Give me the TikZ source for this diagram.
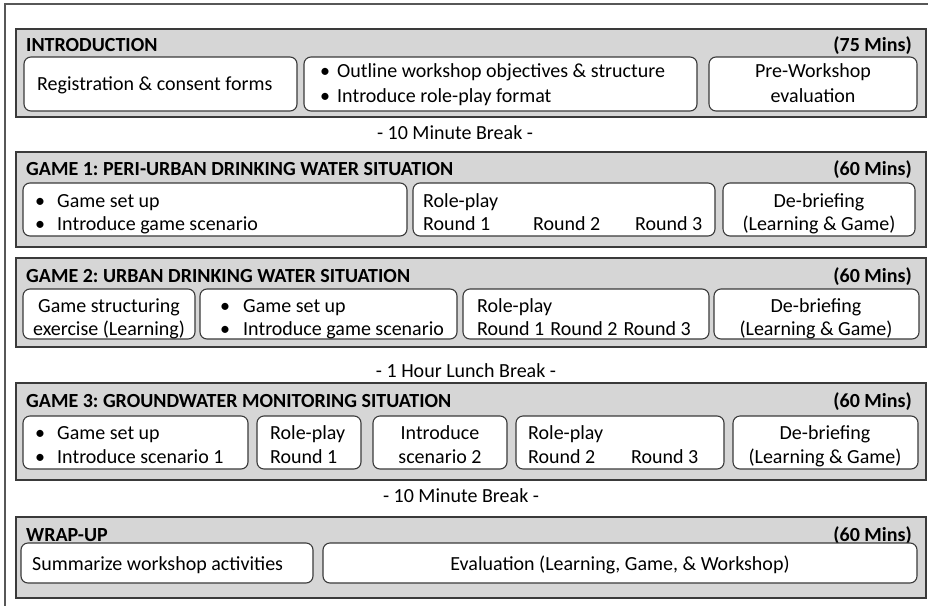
\documentclass[tikz,border=0pt]{standalone}
\usepackage{fontspec}
\setmainfont{Carlito}
\usetikzlibrary{fit}
\frenchspacing
\definecolor{panelfill}{HTML}{D6D6D6}
\definecolor{edge}{HTML}{3A3A3A}
\tikzset{
  panel/.style={draw=edge, line width=1.3pt, fill=panelfill, inner sep=0pt},
  wbox/.style={draw=edge, line width=1.1pt, fill=white, rounded corners=7pt, inner sep=0pt},
  txt/.style={inner sep=0pt, font=\fontsize{20}{24}\selectfont, text=black},
  lt/.style={txt, anchor=base west},
  ct/.style={txt, anchor=base},
  hd/.style={txt, anchor=base west, font=\fontsize{20}{24}\selectfont\bfseries},
  mins/.style={txt, anchor=base east, font=\fontsize{20}{24}\selectfont\bfseries},
}
\begin{document}
\begin{tikzpicture}[x=1pt,y=-1pt]
\clip (0,0) rectangle (928,605);
\fill[white] (0,0) rectangle (928,605);
\draw[edge!85, line width=1.2pt] (5,4) rectangle (960,640);

% ---------- INTRODUCTION
\node[panel, fit={(16,29) (926,117)}] (p0) {};
\node[hd] (h0) at (26,51) {INTRODUCTION};
\node[mins] (m0) at (912,51) {(75 Mins)};
\node[wbox, fit={(24,57) (297,111)}] (i1) {};
\node[wbox, fit={(304,57) (697,111)}] (i2) {};
\node[wbox, fit={(709,57) (917,111)}] (i3) {};
\node[lt] (i1a) at (37,90) {Registration \& consent forms};
\node[lt] (i2b1) at (320,77) {\textbullet};
\node[lt] (i2a) at (337,77) {Outline workshop objectives \& structure};
\node[lt] (i2b2) at (320,102) {\textbullet};
\node[lt] (i2c) at (337,102) {Introduce role-play format};
\node[ct] (i3a) at (813,77) {Pre-Workshop};
\node[ct] (i3b) at (813,102) {evaluation};

\node[ct] (b1) at (455,139) {- 10 Minute Break -};

% ---------- GAME 1
\node[panel, fit={(16,152) (926,247)}] (p1) {};
\node[hd] (h1) at (26,175) {GAME 1: PERI-URBAN DRINKING WATER SITUATION};
\node[mins] (m1) at (912,175) {(60 Mins)};
\node[wbox, fit={(23,183) (407,236)}] (g11) {};
\node[wbox, fit={(413,183) (715,236)}] (g12) {};
\node[wbox, fit={(723,183) (915,236)}] (g13) {};
\node[lt] (g11b1) at (35,207) {\textbullet};
\node[lt] (g11a) at (57,207) {Game set up};
\node[lt] (g11b2) at (35,230) {\textbullet};
\node[lt] (g11c) at (57,230) {Introduce game scenario};
\node[lt] (g12a) at (423,207) {Role-play};
\node[lt] (g12r1) at (423,230) {Round 1};
\node[lt] (g12r2) at (533,230) {Round 2};
\node[lt] (g12r3) at (635,230) {Round 3};
\node[ct] (g13a) at (819,207) {De-briefing};
\node[ct] (g13b) at (819,230) {(Learning \& Game)};

% ---------- GAME 2
\node[panel, fit={(16,258) (926,347)}] (p2) {};
\node[hd] (h2) at (26,282) {GAME 2: URBAN DRINKING WATER SITUATION};
\node[mins] (m2) at (912,282) {(60 Mins)};
\node[wbox, fit={(23,289) (195,339)}] (g21) {};
\node[wbox, fit={(200,289) (457,339)}] (g22) {};
\node[wbox, fit={(463,289) (709,339)}] (g23) {};
\node[wbox, fit={(714,289) (919,339)}] (g24) {};
\node[ct] (g21a) at (109,312) {Game structuring};
\node[ct] (g21b) at (109,335) {exercise (Learning)};
\node[lt] (g22b1) at (220,312) {\textbullet};
\node[lt] (g22a) at (243,312) {Game set up};
\node[lt] (g22b2) at (220,335) {\textbullet};
\node[lt] (g22c) at (243,335) {Introduce game scenario};
\node[lt] (g23a) at (477,312) {Role-play};
\node[lt] (g23b) at (477,335) {Round 1\hspace{6pt}Round 2\hspace{6pt}Round 3};
\node[ct] (g24a) at (816,312) {De-briefing};
\node[ct] (g24b) at (816,335) {(Learning \& Game)};

\node[ct] (b2) at (466,377) {- 1 Hour Lunch Break -};

% ---------- GAME 3
\node[panel, fit={(16,383) (926,480)}] (p3) {};
\node[hd] (h3) at (26,407) {GAME 3: GROUNDWATER MONITORING SITUATION};
\node[mins] (m3) at (912,407) {(60 Mins)};
\node[wbox, fit={(23,416) (248,469)}] (g31) {};
\node[wbox, fit={(257,416) (361,469)}] (g32) {};
\node[wbox, fit={(373,416) (507,469)}] (g33) {};
\node[wbox, fit={(516,416) (724,469)}] (g34) {};
\node[wbox, fit={(733,416) (918,469)}] (g35) {};
\node[lt] (g31b1) at (35,439) {\textbullet};
\node[lt] (g31a) at (57,439) {Game set up};
\node[lt] (g31b2) at (35,463) {\textbullet};
\node[lt] (g31c) at (57,463) {Introduce scenario 1};
\node[lt] (g32a) at (270,439) {Role-play};
\node[lt] (g32b) at (270,463) {Round 1};
\node[ct] (g33a) at (440,439) {Introduce};
\node[ct] (g33b) at (440,463) {scenario 2};
\node[lt] (g34a) at (528,439) {Role-play};
\node[lt] (g34r2) at (528,463) {Round 2};
\node[lt] (g34r3) at (631,463) {Round 3};
\node[ct] (g35a) at (825,439) {De-briefing};
\node[ct] (g35b) at (825,463) {(Learning \& Game)};

\node[ct] (b3) at (461,502) {- 10 Minute Break -};

% ---------- WRAP-UP
\node[panel, fit={(16,517) (926,598)}] (p4) {};
\node[hd] (h4) at (26,541) {WRAP-UP};
\node[mins] (m4) at (912,541) {(60 Mins)};
\node[wbox, fit={(21,543) (313,583)}] (w1) {};
\node[wbox, fit={(323,543) (917,583)}] (w2) {};
\node[lt] (w1a) at (32,570) {Summarize workshop activities};
\node[ct] (w2a) at (620,570) {Evaluation (Learning, Game, \& Workshop)};
\end{tikzpicture}
\end{document}
